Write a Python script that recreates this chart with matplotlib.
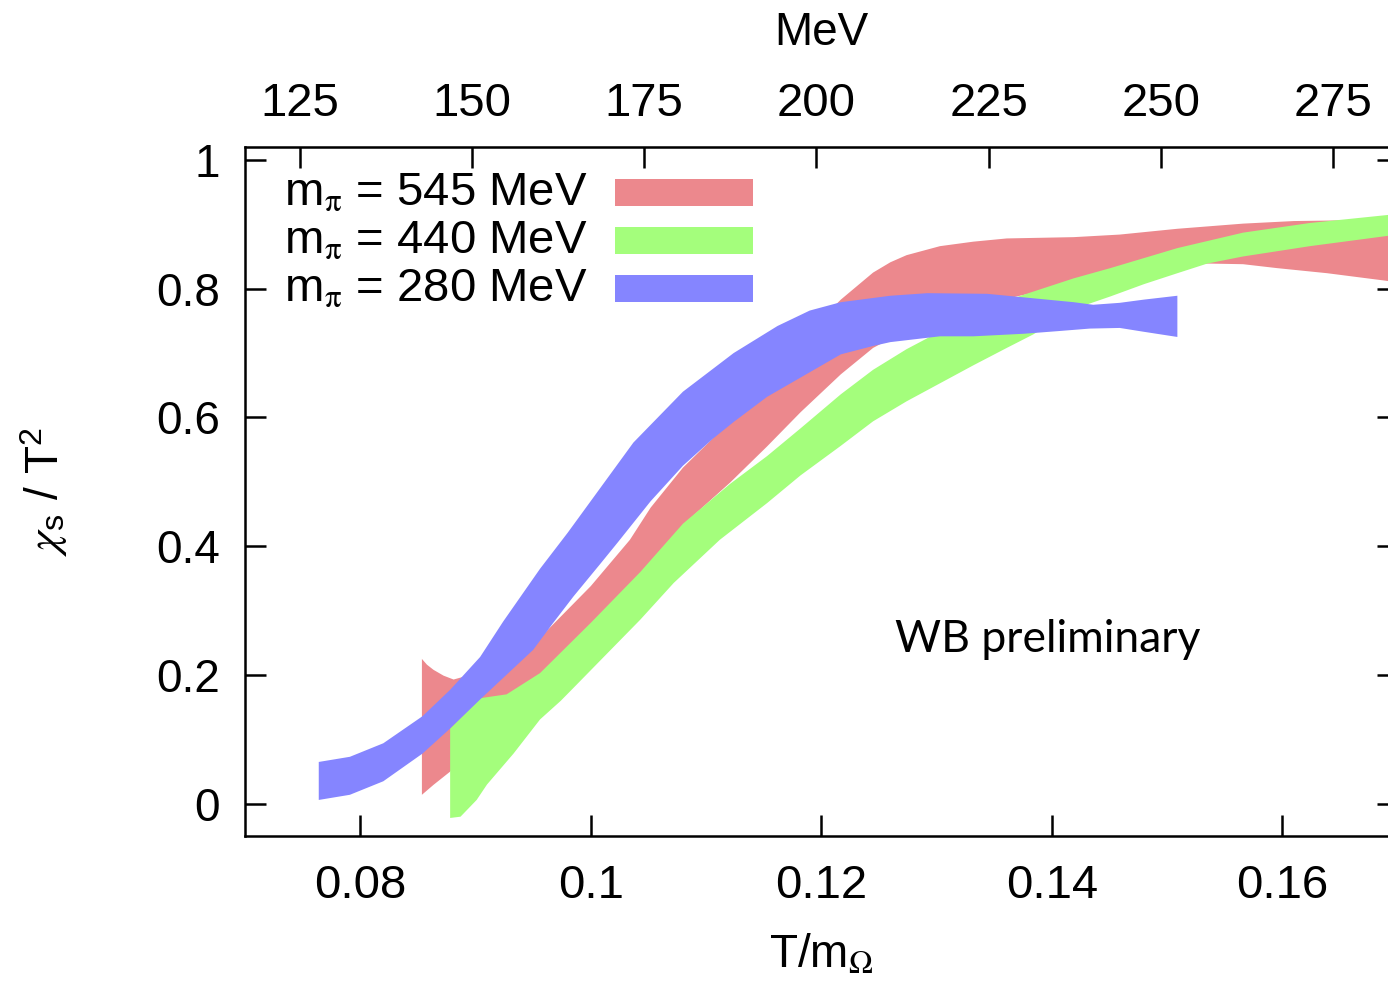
import matplotlib
matplotlib.use("Agg")
import matplotlib.pyplot as plt
import matplotlib.patches as mpatches
import numpy as np

plt.rcParams["font.family"] = ["Liberation Sans", "DejaVu Sans"]
plt.rcParams["mathtext.fontset"] = "stix"

M_OMEGA = 1672.45  # MeV, for the top axis

pion_masses = ["545", "440", "280"]
colors = ["#ec888d", "#a4fe7c", "#8585ff"]

# m_pi = 545 MeV band
red_up_x = [0.08535, 0.08579, 0.08636, 0.08723, 0.0881, 0.0905, 0.0930, 0.0956, 0.1000,
            0.1034, 0.1052, 0.1080, 0.1121, 0.1160, 0.1190, 0.1217, 0.1231, 0.1245,
            0.1260, 0.1274, 0.1303, 0.1332, 0.1361, 0.1419, 0.1459, 0.1509, 0.1566,
            0.1610, 0.1650, 0.1700]
red_up_y = [0.225, 0.216, 0.208, 0.199, 0.193, 0.205, 0.226, 0.258, 0.338,
            0.410, 0.460, 0.522, 0.594, 0.680, 0.735, 0.783, 0.804, 0.825,
            0.841, 0.852, 0.866, 0.873, 0.878, 0.880, 0.884, 0.893, 0.901,
            0.905, 0.906, 0.906]
red_lo_x = [0.08535, 0.08636, 0.0878, 0.0900, 0.0927, 0.0956, 0.1000, 0.1043, 0.1080,
            0.1121, 0.1153, 0.1182, 0.1217, 0.1245, 0.1300, 0.1400, 0.1470, 0.1535,
            0.1566, 0.1595, 0.1639, 0.1700]
red_lo_y = [0.014, 0.0295, 0.050, 0.090, 0.150, 0.200, 0.278, 0.357, 0.433,
            0.499, 0.555, 0.608, 0.667, 0.708, 0.760, 0.800, 0.825, 0.839,
            0.838, 0.832, 0.824, 0.810]

# m_pi = 440 MeV band
green_up_x = [0.0878, 0.0904, 0.0927, 0.0956, 0.1000, 0.1043, 0.1080, 0.1121, 0.1153,
              0.1182, 0.1217, 0.1245, 0.1274, 0.1292, 0.1330, 0.1373, 0.1390, 0.1419,
              0.1451, 0.1509, 0.1566, 0.1624, 0.1700]
green_up_y = [0.117, 0.164, 0.170, 0.203, 0.281, 0.360, 0.435, 0.497, 0.540,
              0.583, 0.636, 0.674, 0.706, 0.723, 0.760, 0.789, 0.799, 0.816,
              0.832, 0.863, 0.887, 0.902, 0.916]
green_lo_x = [0.0878, 0.0887, 0.0901, 0.0910, 0.0933, 0.0956, 0.0974, 0.0985, 0.1014,
              0.1043, 0.1072, 0.1112, 0.1153, 0.1182, 0.1217, 0.1245, 0.1274, 0.1303,
              0.1332, 0.1361, 0.1384, 0.1405, 0.1425, 0.1451, 0.1480, 0.1509, 0.1535,
              0.1566, 0.1624, 0.1700]
green_lo_y = [-0.022, -0.020, 0.006, 0.030, 0.078, 0.131, 0.160, 0.180, 0.233,
              0.286, 0.343, 0.410, 0.467, 0.510, 0.556, 0.594, 0.625, 0.653,
              0.681, 0.708, 0.729, 0.752, 0.772, 0.788, 0.807, 0.824, 0.839,
              0.850, 0.866, 0.884]

# m_pi = 280 MeV band
blue_up_x = [0.0764, 0.0791, 0.0820, 0.0854, 0.0878, 0.0904, 0.0924, 0.0956, 0.0980,
             0.1037, 0.1080, 0.1124, 0.1162, 0.1190, 0.1217, 0.1260, 0.1292, 0.1344,
             0.1367, 0.1419, 0.1436, 0.1459, 0.1480, 0.1509]
blue_up_y = [0.065, 0.073, 0.094, 0.136, 0.177, 0.228, 0.283, 0.365, 0.421,
             0.561, 0.640, 0.700, 0.742, 0.766, 0.779, 0.789, 0.793, 0.792,
             0.788, 0.779, 0.775, 0.778, 0.783, 0.789]
blue_lo_x = [0.0764, 0.0791, 0.0820, 0.0854, 0.0878, 0.0904, 0.0950, 0.0967, 0.0985,
             0.1008, 0.1023, 0.1052, 0.1080, 0.1106, 0.1124, 0.1153, 0.1217, 0.1245,
             0.1260, 0.1303, 0.1332, 0.1376, 0.1405, 0.1433, 0.1459, 0.1480, 0.1509]
blue_lo_y = [0.006, 0.014, 0.035, 0.078, 0.117, 0.162, 0.239, 0.280, 0.322,
             0.372, 0.405, 0.470, 0.525, 0.567, 0.593, 0.632, 0.698, 0.711,
             0.717, 0.726, 0.726, 0.730, 0.734, 0.738, 0.739, 0.733, 0.725]

bands = [
    (red_up_x, red_up_y, red_lo_x, red_lo_y),
    (green_up_x, green_up_y, green_lo_x, green_lo_y),
    (blue_up_x, blue_up_y, blue_lo_x, blue_lo_y),
]

x_ticks = [0.08, 0.10, 0.12, 0.14, 0.16]
x_ticklabels = ["0.08", "0.1", "0.12", "0.14", "0.16"]
y_ticks = [0, 0.2, 0.4, 0.6, 0.8, 1]
y_ticklabels = ["0", "0.2", "0.4", "0.6", "0.8", "1"]
mev_ticks = [125, 150, 175, 200, 225, 250, 275]

fig = plt.figure(figsize=(13.88, 9.81), dpi=100)
# right spine sits just outside the picture, like the cropped original
ax = fig.add_axes([245 / 1388, 145 / 981, 1152.5 / 1388, 689 / 981])

for (ux, uy, lx, ly), c in zip(bands, colors):
    px = np.concatenate([ux, lx[::-1]])
    py = np.concatenate([uy, ly[::-1]])
    ax.fill(px, py, color=c, lw=0)

ax.set_xlim(0.07, 0.17)
ax.set_ylim(-0.05, 1.02)
ax.set_xticks(x_ticks, x_ticklabels)
ax.set_yticks(y_ticks, y_ticklabels)
ax.tick_params(direction="in", length=15, width=1.8, labelsize=33, pad=18,
               right=True, top=False)
ax.tick_params(axis="x", labelsize=34, pad=20)
for s in ax.spines.values():
    s.set_linewidth(1.8)

sec = ax.secondary_xaxis("top", functions=(lambda x: x * M_OMEGA, lambda t: t / M_OMEGA))
sec.set_xticks(mev_ticks, [str(t) for t in mev_ticks])
sec.tick_params(direction="in", length=15, width=1.8, labelsize=34, pad=15)
sec.set_xlabel("MeV", fontsize=33, labelpad=27)

ax.set_xlabel(r"T/m$_{\mathrm{\Omega}}$", fontsize=33, labelpad=18)
ax.set_ylabel(r"$\chi_{\mathregular{s}}$ / T$^{\mathregular{2}}$", fontsize=33, labelpad=62)

# legend drawn by hand: text right-aligned, swatch to its right
legend_base = [0.9144, 0.8447, 0.775]
for m, c, yb in zip(pion_masses, colors, legend_base):
    ax.text(0.2976, yb, r"m$_{\mathrm{\pi}}$ = " + m + " MeV", transform=ax.transAxes,
            ha="right", va="baseline", fontsize=34)
    ax.add_patch(mpatches.Rectangle((0.321, yb), 0.1197, 0.0392, transform=ax.transAxes,
                                    color=c, lw=0))

ax.text(0.1264, 0.236, "WB preliminary", fontsize=32, family=["Lato", "DejaVu Sans"],
        ha="left", va="baseline")

fig.savefig("out.png", dpi=100)
